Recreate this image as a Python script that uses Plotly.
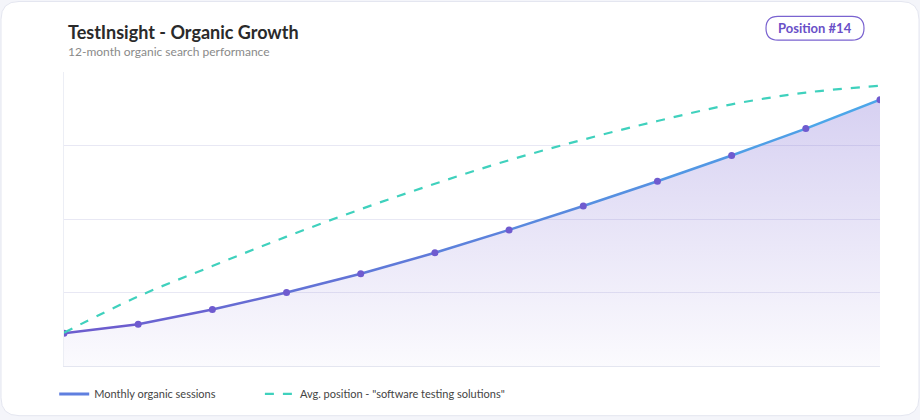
import plotly.graph_objects as go

months = ["Jan","Feb","Mar","Apr","May","Jun","Jul","Aug","Sep","Oct","Nov","Dec"]
sessions = [2230, 2840, 3850, 5000, 6280, 7700, 9260, 10880, 12570, 14320, 16150, 18110]
avg_position = [36.6, 32.9, 29.8, 26.8, 24.0, 21.4, 19.0, 16.9, 15.0, 13.3, 12.1, 11.4]

L, R, T, B = 64, 40, 72, 52
W, H = 920, 420
pw, ph = W - L - R, H - T - B

def px(x): return (x - L) / pw
def py(y): return (H - B - y) / ph

def rounded(x0, y0, x1, y1, r):
    a, b, c, d = px(x0), py(y0), px(x1), py(y1)
    rx, ry = r / pw, r / ph
    return (f"M{a+rx},{b} L{c-rx},{b} Q{c},{b} {c},{b-ry} L{c},{d+ry} Q{c},{d} {c-rx},{d} "
            f"L{a+rx},{d} Q{a},{d} {a},{d+ry} L{a},{b-ry} Q{a},{b} {a+rx},{b} Z")

fig = go.Figure()
fig.add_trace(go.Scatter(x=months, y=sessions, mode="lines", line=dict(width=0),
    fill="tozeroy", fillgradient=dict(type="vertical",
        colorscale=[[0, "rgba(120,100,210,0.03)"], [1, "rgba(120,100,210,0.30)"]]),
    showlegend=False, hoverinfo="skip"))

c0, c1 = (110, 90, 205), (75, 170, 235)
n = len(months)
for i in range(n - 1):
    t = (i + 0.5) / (n - 1)
    col = "rgb(%d,%d,%d)" % tuple(int(c0[k] + (c1[k] - c0[k]) * t) for k in range(3))
    fig.add_trace(go.Scatter(x=months[i:i+2], y=sessions[i:i+2], mode="lines",
        line=dict(color=col, width=2.5), showlegend=False, hoverinfo="skip"))
fig.add_trace(go.Scatter(x=months, y=sessions, mode="markers", name="Monthly organic sessions",
    marker=dict(color="#6f5bcf", size=7), showlegend=False))
fig.add_trace(go.Scatter(x=[None], y=[None], mode="lines",
    name="Monthly organic sessions" + "\u00a0" * 14,
    line=dict(color="#5f7fdf", width=3)))
fig.add_trace(go.Scatter(x=months, y=avg_position, yaxis="y2", mode="lines",
    name='Avg. position - "software testing solutions"',
    line=dict(color="#3fd1bd", width=2.2, dash="dash", shape="spline")))

fig.update_layout(
    width=W, height=H, margin=dict(l=L, r=R, t=T, b=B),
    paper_bgcolor="#f4f5fa", plot_bgcolor="rgba(0,0,0,0)",
    font=dict(family="Lato", color="#444"),
    xaxis=dict(showticklabels=False, showgrid=False, zeroline=False, range=[0, 11],
               showline=True, linecolor="#e4e6f0", linewidth=1),
    yaxis=dict(range=[0, 20000], dtick=5000, showticklabels=False, gridcolor="#e8e8f4",
               zeroline=False, showline=True, linecolor="#eceef5"),
    yaxis2=dict(range=[40, 10], overlaying="y", showticklabels=False, showgrid=False, zeroline=False),
    legend=dict(orientation="h", x=-0.012, y=-0.095, yanchor="middle",
                bgcolor="rgba(0,0,0,0)", font=dict(size=11, color="#444")),
    shapes=[
        dict(type="path", xref="paper", yref="paper", layer="below",
             path=rounded(1, 1, 919, 418, 18), fillcolor="white",
             line=dict(color="#e4e6f0", width=1)),
        dict(type="path", xref="paper", yref="paper",
             path=rounded(766, 16, 864, 40, 12), fillcolor="white",
             line=dict(color="#7a63d0", width=1.2)),
    ],
    annotations=[
        dict(text="<b>TestInsight - Organic Growth</b>", x=px(66), y=py(32), xref="paper", yref="paper",
             xanchor="left", yanchor="middle", showarrow=False, font=dict(size=18, color="#2a2a2a")),
        dict(text="12-month organic search performance", x=px(66), y=py(51), xref="paper", yref="paper",
             xanchor="left", yanchor="middle", showarrow=False, font=dict(size=12, color="#8a8a8a")),
        dict(text="<b>Position #14</b>", x=px(815), y=py(28), xref="paper", yref="paper",
             xanchor="center", yanchor="middle", showarrow=False, font=dict(size=13, color="#6a50c8")),
    ],
)
fig.write_html("out.html", config={"displayModeBar": False})
with open("out.html", encoding="utf-8") as f:
    html = f.read()
html = html.replace("<head>", "<head><style>html,body{margin:0;padding:0;overflow:hidden}</style>", 1)
with open("out.html", "w", encoding="utf-8") as f:
    f.write(html)
